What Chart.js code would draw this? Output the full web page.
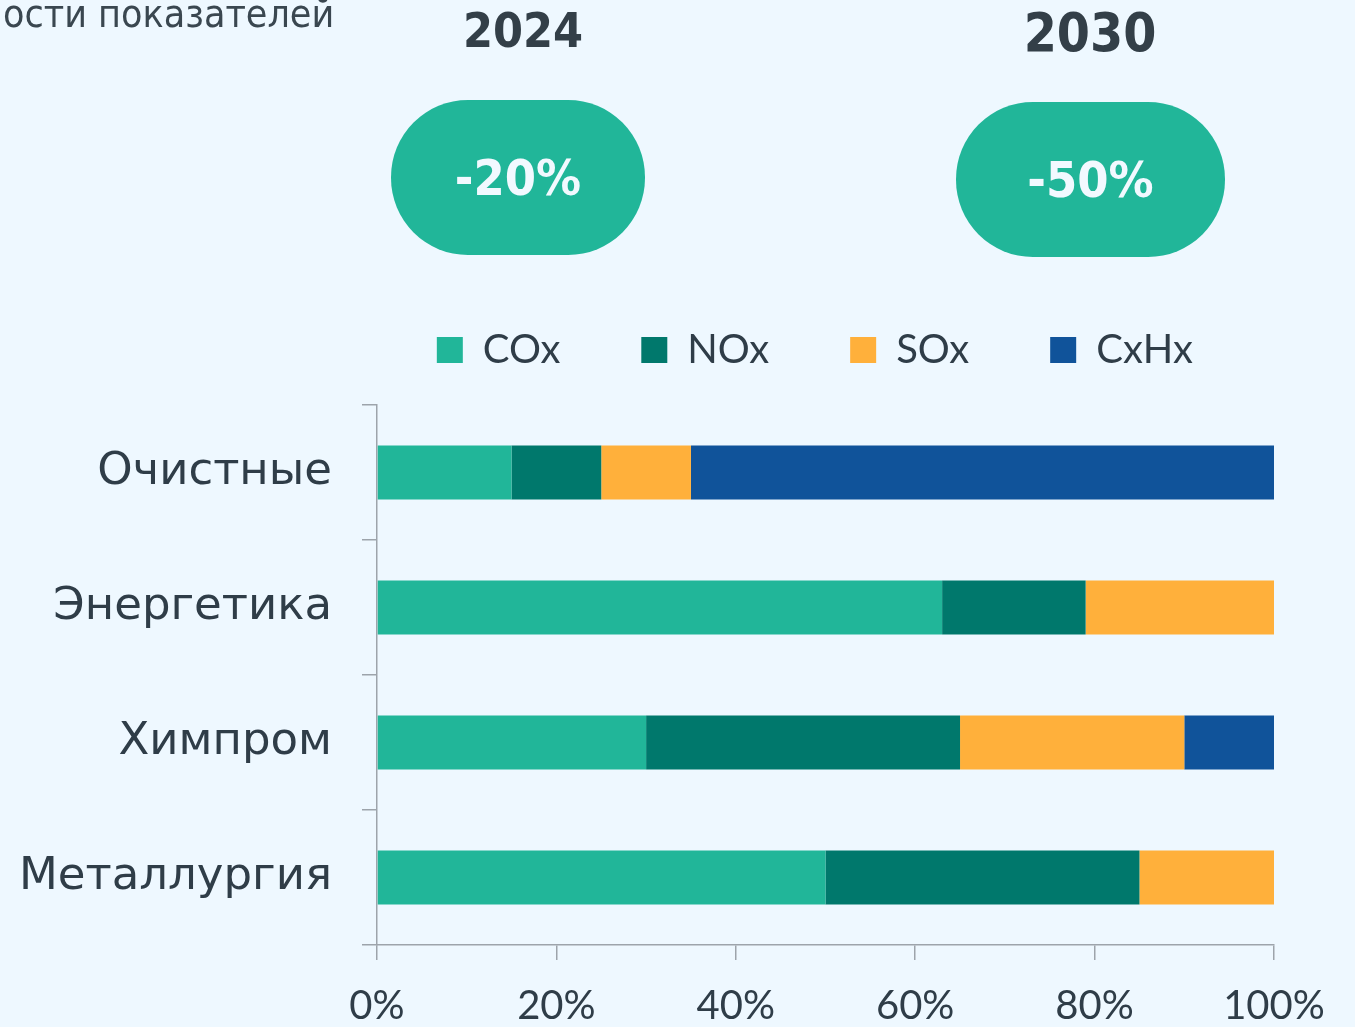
<!DOCTYPE html>
<html lang="ru">
<head>
<meta charset="utf-8">
<script src="https://cdn.jsdelivr.net/npm/chart.js@4/dist/chart.umd.min.js"></script>
<style>
  html, body { margin: 0; padding: 0; background: #eef8ff; width: 1355px; height: 1027px; overflow: hidden; }
  #wrap { position: relative; width: 1355px; height: 1027px; }
  #c { position: absolute; left: 0; top: 0; }
  .cond { font-family: 'DejaVu Sans Condensed', 'DejaVu Sans', sans-serif; font-stretch: condensed; }
  .hdr { position: absolute; color: #333f48; white-space: nowrap; }
  .pill { position: absolute; background: #21b699; display: flex; align-items: center; justify-content: center;
          color: #f2f9ff; font-weight: bold; font-size: 50px; }
</style>
</head>
<body>
<div id="wrap">
  <canvas id="c" width="1355" height="1027"></canvas>
  <div class="hdr cond" style="left:3px; top:-6px; font-size:39px; line-height:40px; color:#3a4750;">ости показателей</div>
  <div class="hdr cond" style="left:423px; width:200px; text-align:center; top:6px; font-size:48px; line-height:48px; font-weight:bold;">2024</div>
  <div class="hdr cond" style="left:990px; width:200px; text-align:center; top:6px; font-size:53px; line-height:53px; font-weight:bold;">2030</div>
  <div class="pill cond" style="left:391px; top:100px; width:254px; height:155px; border-radius:77px;">-20%</div>
  <div class="pill cond" style="left:956px; top:102px; width:269px; height:155px; border-radius:77px;">-50%</div>
</div>
<script>
const categories = ['Очистные', 'Энергетика', 'Химпром', 'Металлургия'];
const seriesNames = ['COx', 'NOx', 'SOx', 'CxHx'];
const cox  = [15, 63, 30, 50];
const nox  = [10, 16, 35, 35];
const sox  = [10, 21, 25, 15];
const cxhx = [65, 0, 10, 0];
const xTicks = [0, 20, 40, 60, 80, 100];
const colors = ['#21b699', '#00786c', '#ffb03b', '#10539a'];

const axisColor = '#9da4ab';
const textColor = '#2f3d48';

const legendHeightFix = {
  id: 'legendHeightFix',
  afterInit(chart) {
    const lg = chart.legend;
    if (!lg) return;
    const orig = lg.fit;
    lg.fit = function () {
      orig.call(this);
      this.height = 156;
    };
  }
};

new Chart(document.getElementById('c'), {
  type: 'bar',
  data: {
    labels: categories,
    datasets: [cox, nox, sox, cxhx].map((d, i) => ({
      label: seriesNames[i],
      data: d,
      backgroundColor: colors[i],
      borderWidth: 0,
      barPercentage: 0.4,
      categoryPercentage: 1.0
    }))
  },
  options: {
    indexAxis: 'y',
    responsive: false,
    animation: false,
    layout: { padding: { top: 249, left: 0, right: 81, bottom: 0 } },
    plugins: {
      tooltip: { enabled: false },
      legend: {
        position: 'top',
        align: 'end',
        labels: {
          font: { family: 'Lato', size: 40 },
          color: textColor,
          boxWidth: 26,
          boxHeight: 26,
          padding: 81
        }
      }
    },
    scales: {
      x: {
        stacked: true,
        min: 0,
        max: 100,
        afterBuildTicks(scale) { scale.ticks = xTicks.map(v => ({ value: v })); },
        afterFit(scale) { scale.height = 82; },
        ticks: {
          color: textColor,
          font: { family: 'Lato', size: 40 },
          padding: 22,
          callback: v => v + '%'
        },
        grid: { drawOnChartArea: false, tickLength: 15, color: axisColor, lineWidth: 1.5 },
        border: { display: true, color: axisColor, width: 1.5 }
      },
      y: {
        stacked: true,
        afterFit(scale) { scale.width = 377; },
        ticks: {
          color: textColor,
          font: { family: 'DejaVu Sans', size: 45 },
          padding: 30
        },
        grid: { drawOnChartArea: false, tickLength: 15, color: axisColor, lineWidth: 1.5, offset: true },
        border: { display: true, color: axisColor, width: 1.5 }
      }
    }
  },
  plugins: [legendHeightFix]
});
</script>
</body>
</html>
